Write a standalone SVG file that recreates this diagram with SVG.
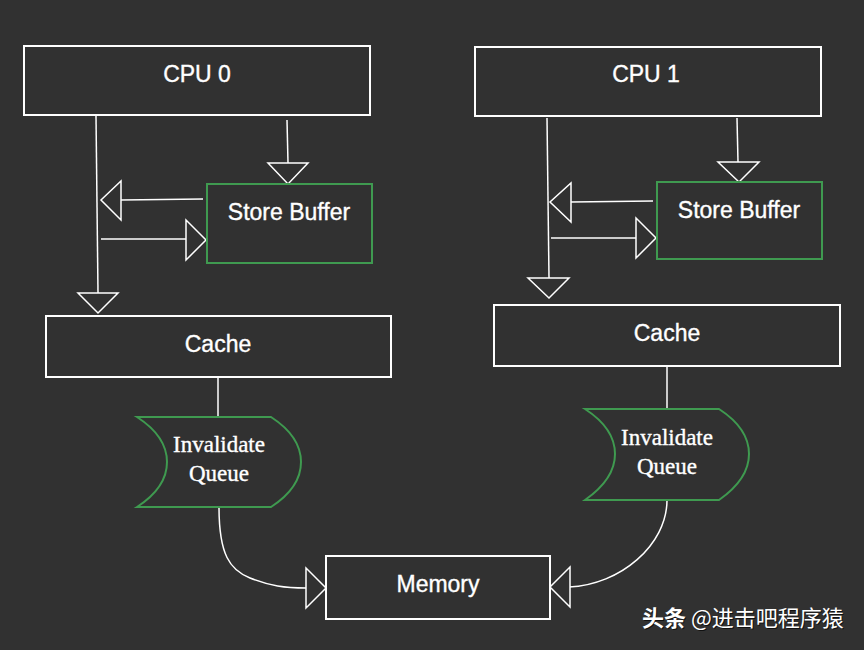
<svg xmlns="http://www.w3.org/2000/svg" width="864" height="650" viewBox="0 0 864 650">
<style>
.box{fill:#313131;stroke:#ffffff;stroke-width:2}
.gbox{fill:#313131;stroke:#3f9a50;stroke-width:2}
.lbl{font-family:"Liberation Sans",Arial,sans-serif;font-size:23px;fill:#ffffff;stroke:#ffffff;stroke-width:0.35;text-anchor:middle}
.ser{font-family:"Liberation Serif","Times New Roman",serif;font-size:23px;fill:#ffffff;stroke:#ffffff;stroke-width:0.35;text-anchor:middle}
.ln{fill:none;stroke:#ffffff;stroke-width:1.5}
.tri{fill:#313131;stroke:#ffffff;stroke-width:1.5;stroke-linejoin:miter}
.wm{font-family:"Noto Sans CJK SC","Liberation Sans",sans-serif;font-size:22px;fill:#ffffff}
.wms{font-family:"Noto Sans CJK SC","Liberation Sans",sans-serif;font-size:22px;fill:#111111}
</style>
<rect width="864" height="650" fill="#313131"/>

<g id="connectors">
  <line class="ln" x1="287" y1="120" x2="288" y2="163"/>
  <polygon class="tri" points="268,163 308,163 288,184"/>
  <line class="ln" x1="203" y1="199" x2="121" y2="200"/>
  <polygon class="tri" points="121,181 121,220 101,200"/>
  <line class="ln" x1="101" y1="239" x2="186" y2="239"/>
  <polygon class="tri" points="186,220 186,260 206,240"/>
  <line class="ln" x1="96" y1="116" x2="98" y2="293"/>
  <polygon class="tri" points="78,293 118,293 98,313"/>

  <line class="ln" x1="737" y1="118" x2="738" y2="162"/>
  <polygon class="tri" points="718,162 759,162 739,182"/>
  <line class="ln" x1="653" y1="201" x2="571" y2="202"/>
  <polygon class="tri" points="571,183 571,222 550,202"/>
  <line class="ln" x1="551" y1="238" x2="636" y2="238"/>
  <polygon class="tri" points="636,218 636,258 656,238"/>
  <line class="ln" x1="547" y1="118" x2="549" y2="278"/>
  <polygon class="tri" points="528,278 569,278 549,298"/>

  <line class="ln" x1="218" y1="377" x2="218" y2="417"/>
  <line class="ln" x1="667" y1="366" x2="667" y2="409"/>

  <path class="ln" d="M219 507 C219 555 230 570 250 578 C270 586 285 588 306 588"/>
  <polygon class="tri" points="306,568 306,608 326,588"/>
  <path class="ln" d="M667 500 C667 545 620 585 569 587"/>
  <polygon class="tri" points="570,567 570,607 550,587"/>
</g>

<g id="cpu0">
  <rect class="box" x="24" y="46" width="346" height="69"/>
  <text class="lbl" x="197" y="82">CPU 0</text>
</g>
<g id="cpu1">
  <rect class="box" x="475" y="47" width="346" height="69"/>
  <text class="lbl" x="646" y="82">CPU 1</text>
</g>
<g id="storebuffer0">
  <rect class="gbox" x="207" y="184" width="165" height="79"/>
  <text class="lbl" x="289" y="220">Store Buffer</text>
</g>
<g id="storebuffer1">
  <rect class="gbox" x="657" y="182" width="165" height="77"/>
  <text class="lbl" x="739" y="218">Store Buffer</text>
</g>
<g id="cache0">
  <rect class="box" x="46" y="316" width="345" height="61"/>
  <text class="lbl" x="218" y="352">Cache</text>
</g>
<g id="cache1">
  <rect class="box" x="494" y="305" width="346" height="61"/>
  <text class="lbl" x="667" y="341">Cache</text>
</g>
<g id="iq0">
  <path class="gbox" d="M137 417 L271 417 C291 430 301 445 301 462 C301 479 291 494 271 507 L137 507 C157 494 167 479 167 462 C167 445 157 430 137 417 Z"/>
  <text class="ser" x="219" y="452">Invalidate</text>
  <text class="ser" x="219" y="481">Queue</text>
</g>
<g id="iq1">
  <path class="gbox" d="M585 409 L719 409 C739 422 749 437 749 454 C749 471 739 486 719 500 L585 500 C605 486 615 471 615 454 C615 437 605 422 585 409 Z"/>
  <text class="ser" x="667" y="445">Invalidate</text>
  <text class="ser" x="667" y="474">Queue</text>
</g>
<g id="memory">
  <rect class="box" x="326" y="556" width="224" height="63"/>
  <text class="lbl" x="438" y="592">Memory</text>
</g>

<g id="watermark">
  <text class="wms" x="643" y="627"><tspan font-weight="bold">头条</tspan> @进击吧程序猿</text>
  <text class="wm" x="642" y="626"><tspan font-weight="bold">头条</tspan> @进击吧程序猿</text>
</g>
</svg>
